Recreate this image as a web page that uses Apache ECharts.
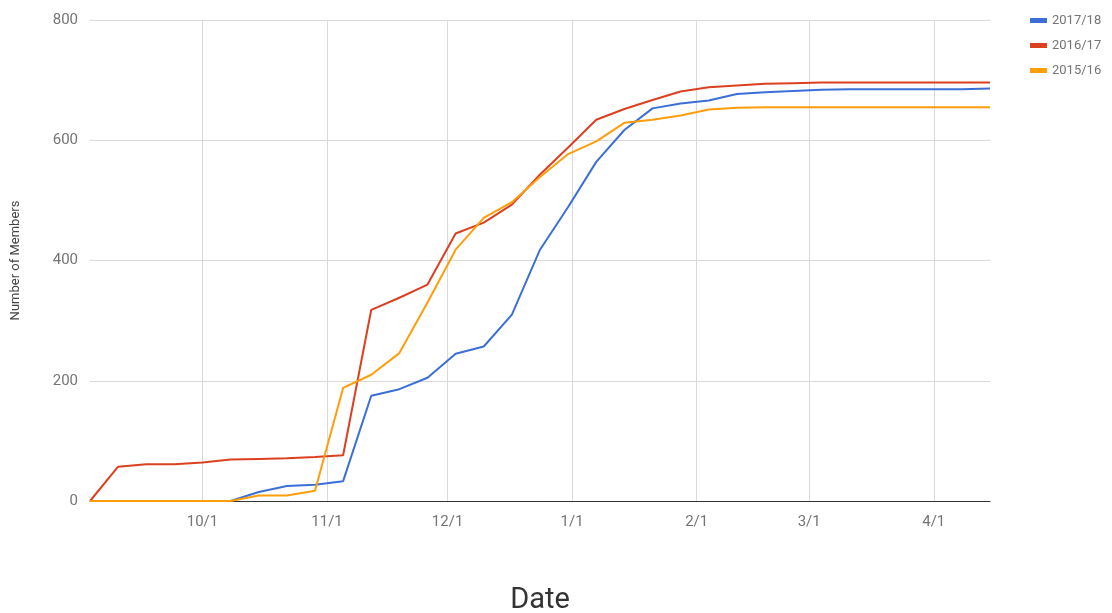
<!DOCTYPE html>
<html>
<head>
<meta charset="utf-8">
<script src="https://cdn.jsdelivr.net/npm/echarts@6/dist/echarts.min.js"></script>
<style>
html,body{margin:0;padding:0;background:#fff;}
#chart{width:1112px;height:613px;}
</style>
</head>
<body>
<div id="chart"></div>
<script>
// Weekly sample dates (season axis, Sep -> Apr)
var dates = [
  '2017-09-03','2017-09-10','2017-09-17','2017-09-24','2017-10-01','2017-10-08','2017-10-15',
  '2017-10-22','2017-10-29','2017-11-05','2017-11-12','2017-11-19','2017-11-26','2017-12-03',
  '2017-12-10','2017-12-17','2017-12-24','2017-12-31','2018-01-07','2018-01-14','2018-01-21',
  '2018-01-28','2018-02-04','2018-02-11','2018-02-18','2018-02-25','2018-03-04','2018-03-11',
  '2018-03-18','2018-03-25','2018-04-01','2018-04-08','2018-04-15'
];
var seriesNames = ['2017/18', '2016/17', '2015/16'];
var members1718 = [0,0,0,0,0,0,15,25,27,33,175,186,205,245,257,310,418,489,564,617,653,661,666,677,680,682,684,685,685,685,685,685,686];
var members1617 = [0,57,61,61,64,69,70,71,73,76,318,338,360,445,463,493,543,588,634,652,667,681,688,691,694,695,696,696,696,696,696,696,696];
var members1516 = [0,0,0,0,0,0,9,9,17,188,210,246,330,418,471,497,539,577,598,629,634,641,651,654,655,655,655,655,655,655,655,655,655];
var yTicks = [0, 200, 400, 600, 800];

var colors = ['#3c6fd6', '#db4020', '#ff9d0a'];
function pairs(vals){ return dates.map(function(d,i){ return [d, vals[i]]; }); }
var allVals = [members1718, members1617, members1516];

var chart = echarts.init(document.getElementById('chart'));
chart.setOption({
  animation: false,
  textStyle: { fontFamily: 'Roboto' },
  grid: { left: 90, right: 122, top: 20, bottom: 112, containLabel: false, outerBoundsMode: 'none' },
  legend: {
    orient: 'vertical', left: 1025, top: 9, itemGap: 12,
    itemWidth: 17, itemHeight: 5, icon: 'rect',
    textStyle: { fontSize: 13, color: '#757575', fontFamily: 'Roboto' },
    data: seriesNames
  },
  xAxis: {
    type: 'time',
    min: dates[0], max: dates[dates.length-1],
    minInterval: 28*86400000, maxInterval: 31*86400000,
    name: 'Date', nameLocation: 'middle', nameGap: 85,
    nameTextStyle: { fontSize: 29, color: '#333', fontFamily: 'Roboto' },
    axisLine: { lineStyle: { color: '#333', width: 1 } },
    axisTick: { show: false },
    axisLabel: {
      fontSize: 15, color: '#757575', margin: 14, showMinLabel: false, showMaxLabel: false,
      formatter: function(v){ var d = new Date(v); return (d.getMonth()+1) + '/' + d.getDate(); }
    },
    splitLine: { show: true, showMinLine: false, showMaxLine: false, lineStyle: { color: '#d9d9d9' } }
  },
  yAxis: {
    type: 'value', min: yTicks[0], max: yTicks[yTicks.length-1], interval: 200,
    name: 'Number of Members', nameLocation: 'middle', nameGap: 68,
    nameTextStyle: { fontSize: 13, color: '#444', fontFamily: 'Roboto' },
    axisLine: { show: false }, axisTick: { show: false },
    axisLabel: { fontSize: 15, color: '#757575', margin: 12 },
    splitLine: { lineStyle: { color: '#d9d9d9' } }
  },
  series: seriesNames.map(function(n, k){
    return {
      name: n, type: 'line', data: pairs(allVals[k]),
      showSymbol: false, symbol: 'none',
      lineStyle: { width: 2, color: colors[k] },
      itemStyle: { color: colors[k] }
    };
  })
});
</script>
</body>
</html>
